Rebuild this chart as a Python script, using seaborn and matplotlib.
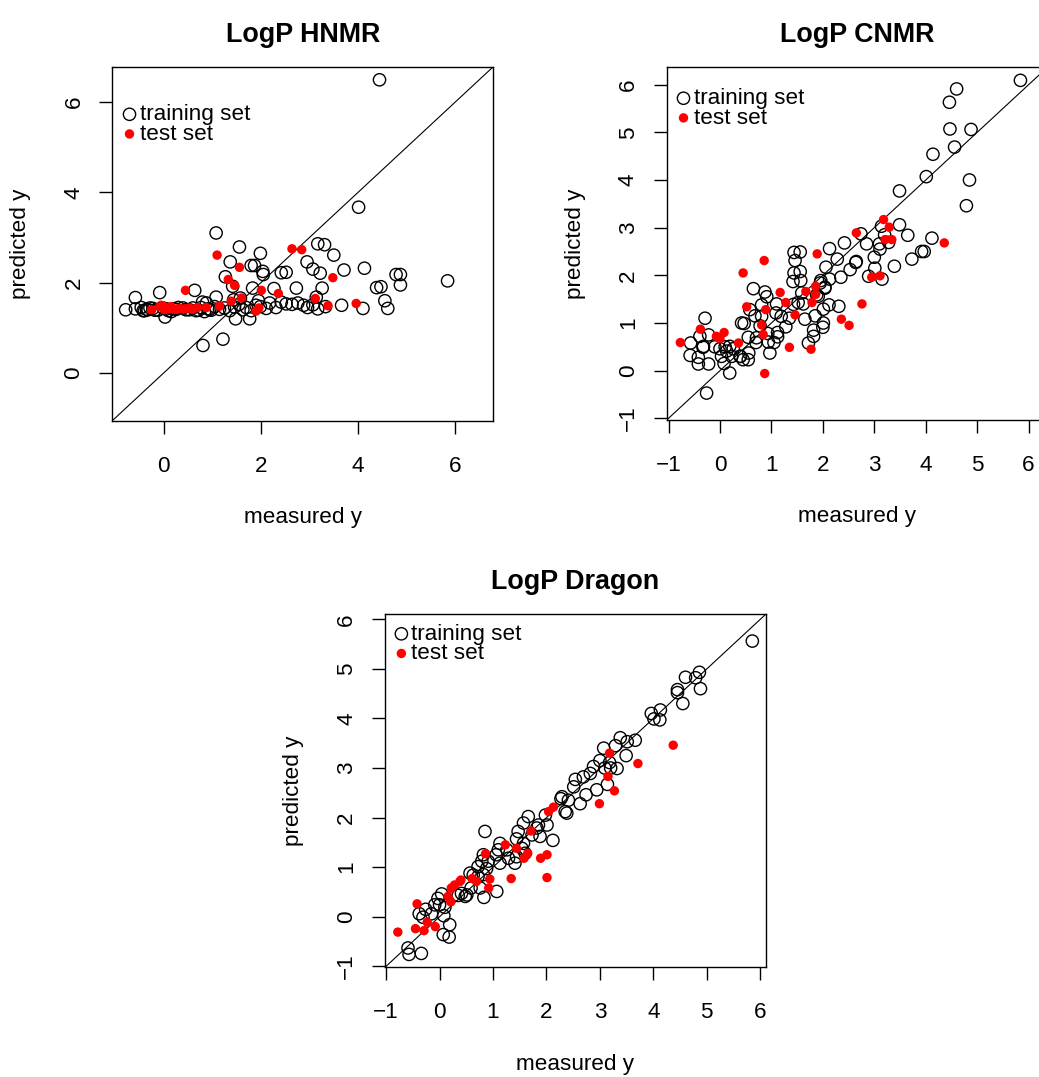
import matplotlib
matplotlib.use('Agg')
import matplotlib.pyplot as plt
import seaborn as sns

# LogP HNMR - training set
hnmr_train_x = [4.44, 4.01, 1.08, 1.56, 1.99, 3.17, 3.31, 3.50, 1.37, 1.80, 1.87, 2.04, 2.05,
                2.95, 3.07, 3.22, 2.42, 2.52, 3.71, 4.13, 4.78, 4.87, 4.87, 4.38, 4.47, 5.84,
                1.27, 1.42, 1.83, 2.27, 2.73, 3.26, 3.14, -0.08, 0.64, -0.58, 1.08, 4.55,
                4.61, 4.10, 3.66, 0.81, 1.22, 1.48, 1.77, 0.03,
                -0.78, -0.58, -0.46, -0.39, -0.32, -0.22, -0.12, 0.06, 0.16, 0.26, 0.40,
                0.53, 0.67, 0.77, 0.84, 0.91, 0.98, 1.05, 1.15, 1.25, 1.36, 1.46, 1.55,
                1.63, 1.70, 1.80, 1.90, 1.99, 2.11, 2.18, 2.31, 2.42, 2.52, 2.64, 2.76,
                2.88, 2.96, 3.07, 3.17, 3.33,
                -0.42, -0.35, -0.28, -0.18, 0.00, 0.10, 0.20, 0.30, 0.46, 0.60, 0.72,
                0.80, 0.88, 0.95, 1.44, 1.58, 1.95]
hnmr_train_y = [6.49, 3.67, 3.10, 2.79, 2.65, 2.86, 2.84, 2.61, 2.46, 2.38, 2.38, 2.25, 2.18,
                2.46, 2.30, 2.21, 2.22, 2.23, 2.28, 2.32, 2.18, 2.18, 1.95, 1.89, 1.91, 2.04,
                2.13, 1.92, 1.88, 1.87, 1.88, 1.88, 1.68, 1.78, 1.83, 1.67, 1.68, 1.60,
                1.43, 1.43, 1.50, 0.61, 0.75, 1.20, 1.20, 1.24,
                1.40, 1.42, 1.45, 1.38, 1.40, 1.43, 1.39, 1.42, 1.36, 1.41, 1.44,
                1.40, 1.38, 1.45, 1.36, 1.42, 1.39, 1.47, 1.41, 1.44, 1.38, 1.46, 1.52,
                1.40, 1.45, 1.38, 1.50, 1.47, 1.43, 1.55, 1.45, 1.57, 1.53, 1.52, 1.55,
                1.50, 1.45, 1.51, 1.42, 1.47,
                1.38, 1.41, 1.44, 1.39, 1.43, 1.38, 1.42, 1.45, 1.40, 1.44, 1.39,
                1.57, 1.55, 1.41, 1.62, 1.66, 1.60]

# LogP HNMR - test set
hnmr_test_x = [1.10, 2.64, 2.84, 1.56, 1.33, 1.46, 3.48, 0.45, 2.01, 2.36, 1.60, 1.39, 3.12,
               3.38, 3.96, 1.90, 1.96, 1.15, 0.88, -0.25, -0.08, -0.01, 0.06, 0.12, 0.19,
               0.26, 0.33, 0.43, 0.53, 0.60, 0.70, -0.05, 0.02, 0.15]
hnmr_test_y = [2.61, 2.75, 2.73, 2.34, 2.07, 1.94, 2.11, 1.83, 1.83, 1.76, 1.66, 1.59, 1.65,
               1.49, 1.54, 1.37, 1.44, 1.48, 1.45, 1.40, 1.47, 1.49, 1.44, 1.42, 1.43,
               1.41, 1.43, 1.42, 1.44, 1.41, 1.45, 1.50, 1.40, 1.47]

# LogP CNMR - training set
cnmr_train_x = [5.84, 4.60, 4.46, 4.47, 4.88, 4.56, 4.14, 4.01, 4.85, 4.79, 3.49, 3.49, 3.65,
                4.12, 3.97, 3.73, 3.39, 3.15, 3.14, 3.20, 3.28, 3.10, 3.11, 3.00, 3.01, 2.89,
                2.85, 2.74, 2.65, 2.53, 2.42, 2.28, 2.35, 2.13, 2.06, 2.13, 1.96, 2.04, 1.91,
                2.12, 2.01, 2.01, 2.00, 2.31, 1.85, 1.82, 1.82, 1.72, 1.65, 1.56, 1.44, 1.46,
                1.44, 1.56, 1.42, 1.57, 1.59, 1.52, 1.62, 1.43, 1.35, 1.28, 1.19, 1.10, 1.09,
                1.12, 1.12, 1.05, 0.97, 0.93, 0.875, 0.91, 0.81, 0.65, 0.81, 0.68, 0.78, 0.94,
                0.58, 0.47, 0.42, 0.55, 0.71, 0.70, 0.56, 0.45, 0.40, 0.19, -0.26, -0.29,
                -0.39, -0.22, -0.57, -0.58, -0.42, -0.42, -0.22, -0.33, -0.32, 0.00, 0.10,
                0.19, 0.26, 0.13, 0.03, 0.23, 0.08, -0.10, 0.39, 0.55, 1.88, 1.95, 2.04,
                2.64, 3.92]
cnmr_train_y = [6.09, 5.91, 5.63, 5.07, 5.06, 4.69, 4.54, 4.07, 4.00, 3.46, 3.77, 3.06, 2.84,
                2.78, 2.50, 2.34, 2.19, 1.92, 3.03, 2.85, 2.69, 2.66, 2.55, 2.38, 2.15, 1.98,
                2.66, 2.87, 2.29, 2.12, 2.68, 2.34, 1.96, 2.56, 2.17, 1.92, 1.89, 1.75, 1.56,
                1.38, 1.29, 1.00, 0.91, 1.35, 1.15, 0.85, 0.72, 0.58, 1.08, 2.49, 2.48, 2.31,
                2.05, 2.08, 1.87, 1.89, 1.63, 1.43, 1.40, 1.39, 1.10, 0.92, 1.14, 1.40, 1.21,
                0.80, 0.71, 0.59, 0.37, 0.78, 1.65, 1.55, 1.38, 1.72, 1.14, 1.15, 0.94, 0.60,
                1.28, 0.99, 1.00, 0.70, 0.69, 0.59, 0.37, 0.23, 0.30, -0.05, -0.47, 1.10,
                0.72, 0.75, 0.58, 0.32, 0.28, 0.14, 0.14, 0.49, 0.51, 0.46, 0.50,
                0.51, 0.46, 0.41, 0.30, 0.30, 0.15, 0.50, 0.30, 0.23, 1.59, 1.84, 1.73,
                2.27, 2.50]

# LogP CNMR - test set
cnmr_test_x = [3.18, 3.29, 3.21, 3.34, 4.36, 2.65, 2.95, 3.11, 2.76, 2.36, 2.51, 1.89, 0.86,
               0.45, 1.86, 1.86, 1.67, 1.79, 1.28, 1.46, 1.17, 0.89, 0.52, 0.81, 0.84, 1.35,
               1.77, 0.87, 0.36, 0.08, -0.07, 0.00, -0.38, -0.77]
cnmr_test_y = [3.17, 3.01, 2.75, 2.75, 2.68, 2.89, 1.96, 1.99, 1.40, 1.08, 0.95, 2.45, 2.31,
               2.05, 1.77, 1.60, 1.66, 1.43, 1.43, 1.17, 1.64, 1.28, 1.34, 0.96, 0.76, 0.49,
               0.45, -0.06, 0.58, 0.80, 0.72, 0.67, 0.87, 0.59]

# LogP Dragon - training set
dragon_train_x = [5.85, 4.86, 4.79, 4.60, 4.88, 4.45, 4.45, 4.55, 3.96, 4.13, 4.01, 4.12, 3.66,
                  3.51, 3.38, 3.29, 3.49, 3.07, 3.00, 3.09, 3.20, 3.32, 3.18, 2.88, 2.82, 2.69,
                  2.54, 2.51, 2.94, 3.14, 2.74, 2.63, 2.29, 2.41, 2.35, 2.38, 2.27, 1.98, 2.01,
                  1.66, 1.57, 1.85, 1.82, 1.88, 1.73, 2.12, 0.85, 1.47, 1.44, 1.57, 1.54, 1.60,
                  1.41, 1.44, 1.29, 1.13, 1.10, 1.06, 1.26, 1.13, 0.82, 0.79, 0.91, 0.88, 0.72,
                  0.57, 0.72, 0.82, 0.63, 0.76, 0.83, 1.07, 0.59, 0.51, 0.35, 0.41, 0.48, 0.04,
                  -0.03, -0.09, 0.00, 0.10, 0.08, 0.19, 0.07, 0.18, -0.15, -0.26, -0.38, -0.31,
                  -0.59, -0.57, -0.34]
dragon_train_y = [5.56, 4.93, 4.82, 4.83, 4.60, 4.58, 4.52, 4.30, 4.10, 4.17, 3.99, 3.97, 3.56,
                  3.53, 3.61, 3.45, 3.25, 3.40, 3.15, 3.00, 3.00, 2.99, 3.11, 3.03, 2.89, 2.82,
                  2.77, 2.62, 2.56, 2.67, 2.46, 2.28, 2.42, 2.35, 2.12, 2.09, 2.38, 2.05, 1.85,
                  2.02, 1.89, 1.85, 1.79, 1.62, 1.65, 1.54, 1.72, 1.72, 1.57, 1.48, 1.38, 1.28,
                  1.08, 1.21, 1.18, 1.48, 1.35, 1.25, 1.35, 1.08, 1.25, 1.12, 1.12, 0.97, 1.01,
                  0.88, 0.81, 0.85, 0.84, 0.58, 0.39, 0.51, 0.58, 0.44, 0.43, 0.47, 0.41, 0.46,
                  0.37, 0.24, 0.24, 0.19, 0.02, -0.16, -0.36, -0.41, 0.06, 0.15, 0.06, -0.01,
                  -0.63, -0.76, -0.74]

# LogP Dragon - test set
dragon_test_x = [4.37, 3.71, 3.18, 3.15, 3.27, 2.99, 2.13, 2.04, 1.71, 1.23, 1.44, 1.65, 1.58,
                 1.89, 2.01, 0.86, 0.94, 0.92, 1.34, 2.01, 0.61, 0.69, 0.40, 0.38, 0.22, 0.28,
                 0.16, 0.21, -0.42, -0.23, -0.08, -0.45, -0.29, -0.78]
dragon_test_y = [3.46, 3.09, 3.30, 2.83, 2.54, 2.28, 2.21, 2.12, 1.73, 1.45, 1.38, 1.28, 1.18,
                 1.18, 1.25, 1.27, 0.76, 0.58, 0.77, 0.79, 0.77, 0.71, 0.74, 0.71, 0.58, 0.64,
                 0.41, 0.30, 0.26, -0.11, -0.20, -0.24, -0.28, -0.31]

sns.set_theme(style='white')
plt.rcParams['font.family'] = ['Liberation Sans', 'DejaVu Sans']
plt.rcParams['text.color'] = 'black'
plt.rcParams['axes.labelcolor'] = 'black'

TEXT_SIZE = 16.2
W, H = 1039, 1077


def draw_panel(ax, title, train_x, train_y, test_x, test_y, lim, ticks):
    """One R-style measured vs predicted scatter panel."""
    sns.scatterplot(x=train_x, y=train_y, ax=ax, s=78, facecolor='none',
                    edgecolor='black', linewidth=1.0, label='training set', zorder=3)
    sns.scatterplot(x=test_x, y=test_y, ax=ax, s=46, color='#ff0000',
                    edgecolor='none', linewidth=0, label='test set', zorder=4)
    ax.axline((0, 0), slope=1, color='black', linewidth=0.8, zorder=2)

    ax.set_xlim(lim)
    ax.set_ylim(lim)
    ax.set_xticks(ticks)
    ax.set_yticks(ticks)

    for spine in ax.spines.values():
        spine.set_visible(True)
        spine.set_color('black')
        spine.set_linewidth(1.0)
    ax.tick_params(direction='out', length=9.6, width=1.0, color='black',
                   labelsize=TEXT_SIZE, labelcolor='black', bottom=True, left=True)
    ax.tick_params(axis='x', pad=15.5)
    ax.tick_params(axis='y', pad=10.5)
    for lab in ax.get_yticklabels():
        lab.set_rotation(90)
        lab.set_va('center')

    ax.set_title(title, fontsize=19.4, fontweight='bold', pad=18, color='black')
    ax.set_xlabel('measured y', fontsize=TEXT_SIZE, labelpad=22)
    ax.set_ylabel('predicted y', fontsize=TEXT_SIZE, labelpad=23)

    leg = ax.legend(loc='center left', bbox_to_anchor=(-0.84, 5.5),
                    bbox_transform=ax.transData, frameon=False, borderpad=0,
                    borderaxespad=0, handlelength=0.6, handletextpad=0.15,
                    labelspacing=-0.06, fontsize=TEXT_SIZE)
    for txt in leg.get_texts():
        txt.set_color('black')


fig = plt.figure(figsize=(W / 100, H / 100), dpi=100)

ax1 = fig.add_axes([112.3 / W, 1 - 420.7 / H, 381 / W, 354 / H])
draw_panel(ax1, 'LogP HNMR', hnmr_train_x, hnmr_train_y, hnmr_test_x, hnmr_test_y,
           (-1.055, 6.78), [0, 2, 4, 6])

ax2 = fig.add_axes([666.7 / W, 1 - 420.0 / H, 381 / W, 353 / H])
draw_panel(ax2, 'LogP CNMR', cnmr_train_x, cnmr_train_y, cnmr_test_x, cnmr_test_y,
           (-1.035, 6.37), list(range(-1, 7)))

ax3 = fig.add_axes([385.0 / W, 1 - 967.3 / H, 380.7 / W, 353 / H])
draw_panel(ax3, 'LogP Dragon', dragon_train_x, dragon_train_y, dragon_test_x, dragon_test_y,
           (-1.02, 6.10), list(range(-1, 7)))

fig.savefig('out.png', dpi=100, facecolor='white')
